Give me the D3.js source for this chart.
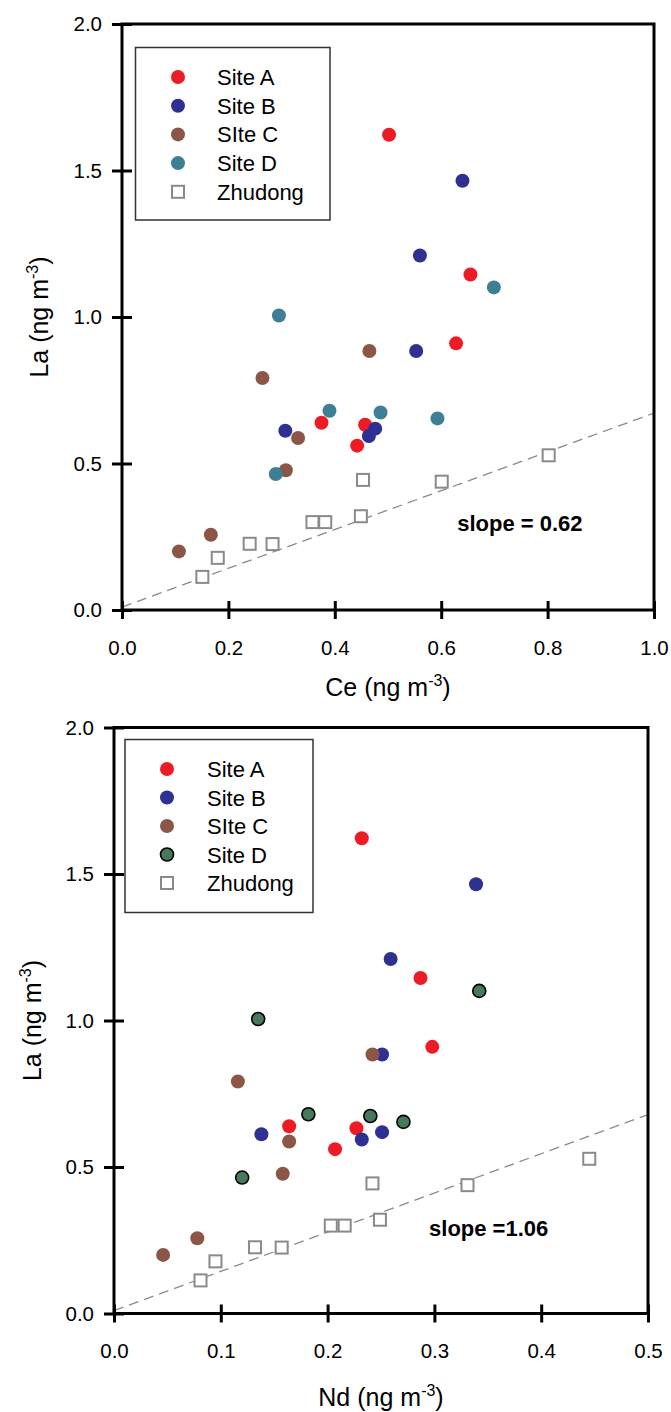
<!DOCTYPE html>
<html>
<head>
<meta charset="utf-8">
<script src="https://cdn.jsdelivr.net/npm/d3@7"></script>
<style>
  body { margin: 0; background: #fff; }
  svg { display: block; }
  text { font-family: Arial, "Liberation Sans", sans-serif; }
</style>
</head>
<body>
<svg id="chart" width="671" height="1412"></svg>
<script>
// La per sito (stessi campioni nei due grafici)
const laSiteA = [1.622, 1.145, 0.910, 0.639, 0.632, 0.561];
const laSiteB = [1.465, 1.210, 0.884, 0.612, 0.619, 0.594];
const laSiteC = [0.884, 0.792, 0.587, 0.477, 0.257, 0.200];
const laSiteD = [1.101, 1.005, 0.680, 0.674, 0.654, 0.464];
const laZhudong = [0.528, 0.438, 0.444, 0.320, 0.300, 0.300, 0.225, 0.226, 0.178, 0.113];

// Ce (grafico in alto)
const ceSiteA = [0.502, 0.655, 0.628, 0.375, 0.457, 0.442];
const ceSiteB = [0.640, 0.560, 0.553, 0.307, 0.476, 0.464];
const ceSiteC = [0.465, 0.264, 0.331, 0.308, 0.167, 0.107];
const ceSiteD = [0.699, 0.295, 0.390, 0.486, 0.593, 0.289];
const ceZhudong = [0.802, 0.601, 0.453, 0.449, 0.382, 0.358, 0.283, 0.240, 0.180, 0.151];

// Nd (grafico in basso)
const ndSiteA = [0.232, 0.287, 0.298, 0.164, 0.227, 0.207];
const ndSiteB = [0.339, 0.259, 0.251, 0.138, 0.251, 0.232];
const ndSiteC = [0.242, 0.116, 0.164, 0.158, 0.078, 0.046];
const ndSiteD = [0.342, 0.135, 0.182, 0.240, 0.271, 0.120];
const ndZhudong = [0.445, 0.331, 0.242, 0.249, 0.216, 0.203, 0.157, 0.132, 0.095, 0.081];

const seriesNames = ["Site A", "Site B", "SIte C", "Site D", "Zhudong"];
const yTicks = [0.0, 0.5, 1.0, 1.5, 2.0];
const ceTicks = [0.0, 0.2, 0.4, 0.6, 0.8, 1.0];
const ndTicks = [0.0, 0.1, 0.2, 0.3, 0.4, 0.5];

// retta di regressione (estremi)
const ceLineX = [0, 1.0], ceLineY = [0.01, 0.672];
const ndLineX = [0, 0.5], ndLineY = [0.01, 0.679];

const svg = d3.select("#chart");

function drawPanel(p) {
    const x = d3.scaleLinear().domain(p.xDomain).range([p.left, p.right]);
    const y = d3.scaleLinear().domain([0, 2]).range([p.bottom, p.top]);
    const g = svg.append("g");

    // linea tratteggiata
    g.append("line")
        .attr("x1", x(p.lineX[0])).attr("y1", y(p.lineY[0]))
        .attr("x2", x(p.lineX[1])).attr("y2", y(p.lineY[1]))
        .attr("stroke", "#8a8a8a").attr("stroke-width", 1.3)
        .attr("stroke-dasharray", "10,6");

    // assi
    const xAxis = g.append("g")
        .attr("transform", `translate(0,${p.bottom})`)
        .call(d3.axisBottom(x).tickValues(p.xTicks).tickFormat(d3.format(".1f")).tickSize(9).tickPadding(21));
    xAxis.selectAll(".tick line").attr("y1", -9).attr("stroke-width", 3);
    const yAxis = g.append("g")
        .attr("transform", `translate(${p.left},0)`)
        .call(d3.axisLeft(y).tickValues(yTicks).tickFormat(d3.format(".1f")).tickSize(10).tickPadding(10));
    yAxis.selectAll(".tick line").attr("x1", 10).attr("stroke-width", 3);
    g.selectAll(".domain").remove();
    g.selectAll(".tick text").attr("font-size", 20.5).attr("fill", "#000")
        .attr("font-family", "Arial, 'Liberation Sans', sans-serif");

    g.append("rect")
        .attr("x", p.left).attr("y", p.top)
        .attr("width", p.right - p.left).attr("height", p.bottom - p.top)
        .attr("fill", "none").attr("stroke", "#000").attr("stroke-width", 3);

    // punti
    const circles = [
        { x: p.xs[0], y: laSiteA, fill: "#ed1c24", stroke: "none" },
        { x: p.xs[1], y: laSiteB, fill: "#2e3192", stroke: "none" },
        { x: p.xs[2], y: laSiteC, fill: "#8b5646", stroke: "none" },
        { x: p.xs[3], y: laSiteD, fill: p.dFill, stroke: p.dStroke }
    ];
    const styles = [];
    circles.forEach(s => {
        styles.push(s);
        g.append("g").selectAll("circle")
            .data(s.x.map((v, i) => [v, s.y[i]]))
            .enter().append("circle")
            .attr("cx", d => x(d[0])).attr("cy", d => y(d[1]))
            .attr("r", s.stroke === "none" ? 7 : 6.5)
            .attr("fill", s.fill)
            .attr("stroke", s.stroke).attr("stroke-width", 1.6);
    });
    g.append("g").selectAll("rect")
        .data(p.xs[4].map((v, i) => [v, laZhudong[i]]))
        .enter().append("rect")
        .attr("x", d => x(d[0]) - 6).attr("y", d => y(d[1]) - 6)
        .attr("width", 12).attr("height", 12)
        .attr("fill", "#fff").attr("stroke", "#8a8a8a").attr("stroke-width", 2);

    // testo pendenza
    g.append("text")
        .attr("x", x(p.slopePos[0])).attr("y", y(p.slopePos[1]))
        .attr("font-size", 22).attr("font-weight", "bold")
        .text(p.slopeText);

    // legenda
    const lg = p.legend;
    g.append("rect")
        .attr("x", lg.x).attr("y", lg.y).attr("width", lg.w).attr("height", lg.h)
        .attr("fill", "#fff").attr("stroke", "#333").attr("stroke-width", 1.5);
    seriesNames.forEach((name, i) => {
        const cy = lg.firstY + i * lg.step;
        if (i < 4) {
            const s = styles[i];
            g.append("circle").attr("cx", lg.markX).attr("cy", cy)
                .attr("r", s.stroke === "none" ? 7 : 6.5)
                .attr("fill", s.fill).attr("stroke", s.stroke).attr("stroke-width", 1.6);
        } else {
            g.append("rect").attr("x", lg.markX - 6).attr("y", cy - 6)
                .attr("width", 12).attr("height", 12)
                .attr("fill", "#fff").attr("stroke", "#8a8a8a").attr("stroke-width", 2);
        }
        g.append("text").attr("x", lg.textX).attr("y", cy + 8)
            .attr("font-size", 22).text(name);
    });

    // titoli assi
    const xt = g.append("text")
        .attr("x", (p.left + p.right) / 2).attr("y", p.xTitleY)
        .attr("text-anchor", "middle").attr("font-size", 25);
    xt.append("tspan").text(p.xName + " (ng m");
    xt.append("tspan").attr("dy", -10).attr("font-size", 16).text("-3");
    xt.append("tspan").attr("dy", 10).text(")");

    const yt = g.append("text")
        .attr("transform", `translate(${p.yTitleX},${(p.top + p.bottom) / 2}) rotate(-90)`)
        .attr("text-anchor", "middle").attr("font-size", 25);
    yt.append("tspan").text("La (ng m");
    yt.append("tspan").attr("dy", -10).attr("font-size", 16).text("-3");
    yt.append("tspan").attr("dy", 10).text(")");
}

drawPanel({
    left: 122, right: 654, top: 24, bottom: 610,
    xDomain: [0, 1], xTicks: ceTicks,
    xs: [ceSiteA, ceSiteB, ceSiteC, ceSiteD, ceZhudong],
    dFill: "#3d7f95", dStroke: "none",
    lineX: ceLineX, lineY: ceLineY,
    slopeText: "slope = 0.62", slopePos: [0.630, 0.270],
    legend: { x: 135.5, y: 47.5, w: 194.5, h: 172.5, firstY: 77, step: 28.7, markX: 178, textX: 217 },
    xName: "Ce", xTitleY: 696, yTitleX: 48
});

drawPanel({
    left: 114, right: 648, top: 727.5, bottom: 1313.5,
    xDomain: [0, 0.5], xTicks: ndTicks,
    xs: [ndSiteA, ndSiteB, ndSiteC, ndSiteD, ndZhudong],
    dFill: "#467a5a", dStroke: "#000",
    lineX: ndLineX, lineY: ndLineY,
    slopeText: "slope =1.06", slopePos: [0.295, 0.265],
    legend: { x: 125, y: 739.5, w: 188, h: 173, firstY: 769, step: 28.5, markX: 167, textX: 207 },
    xName: "Nd", xTitleY: 1406, yTitleX: 41
});
</script>
</body>
</html>
